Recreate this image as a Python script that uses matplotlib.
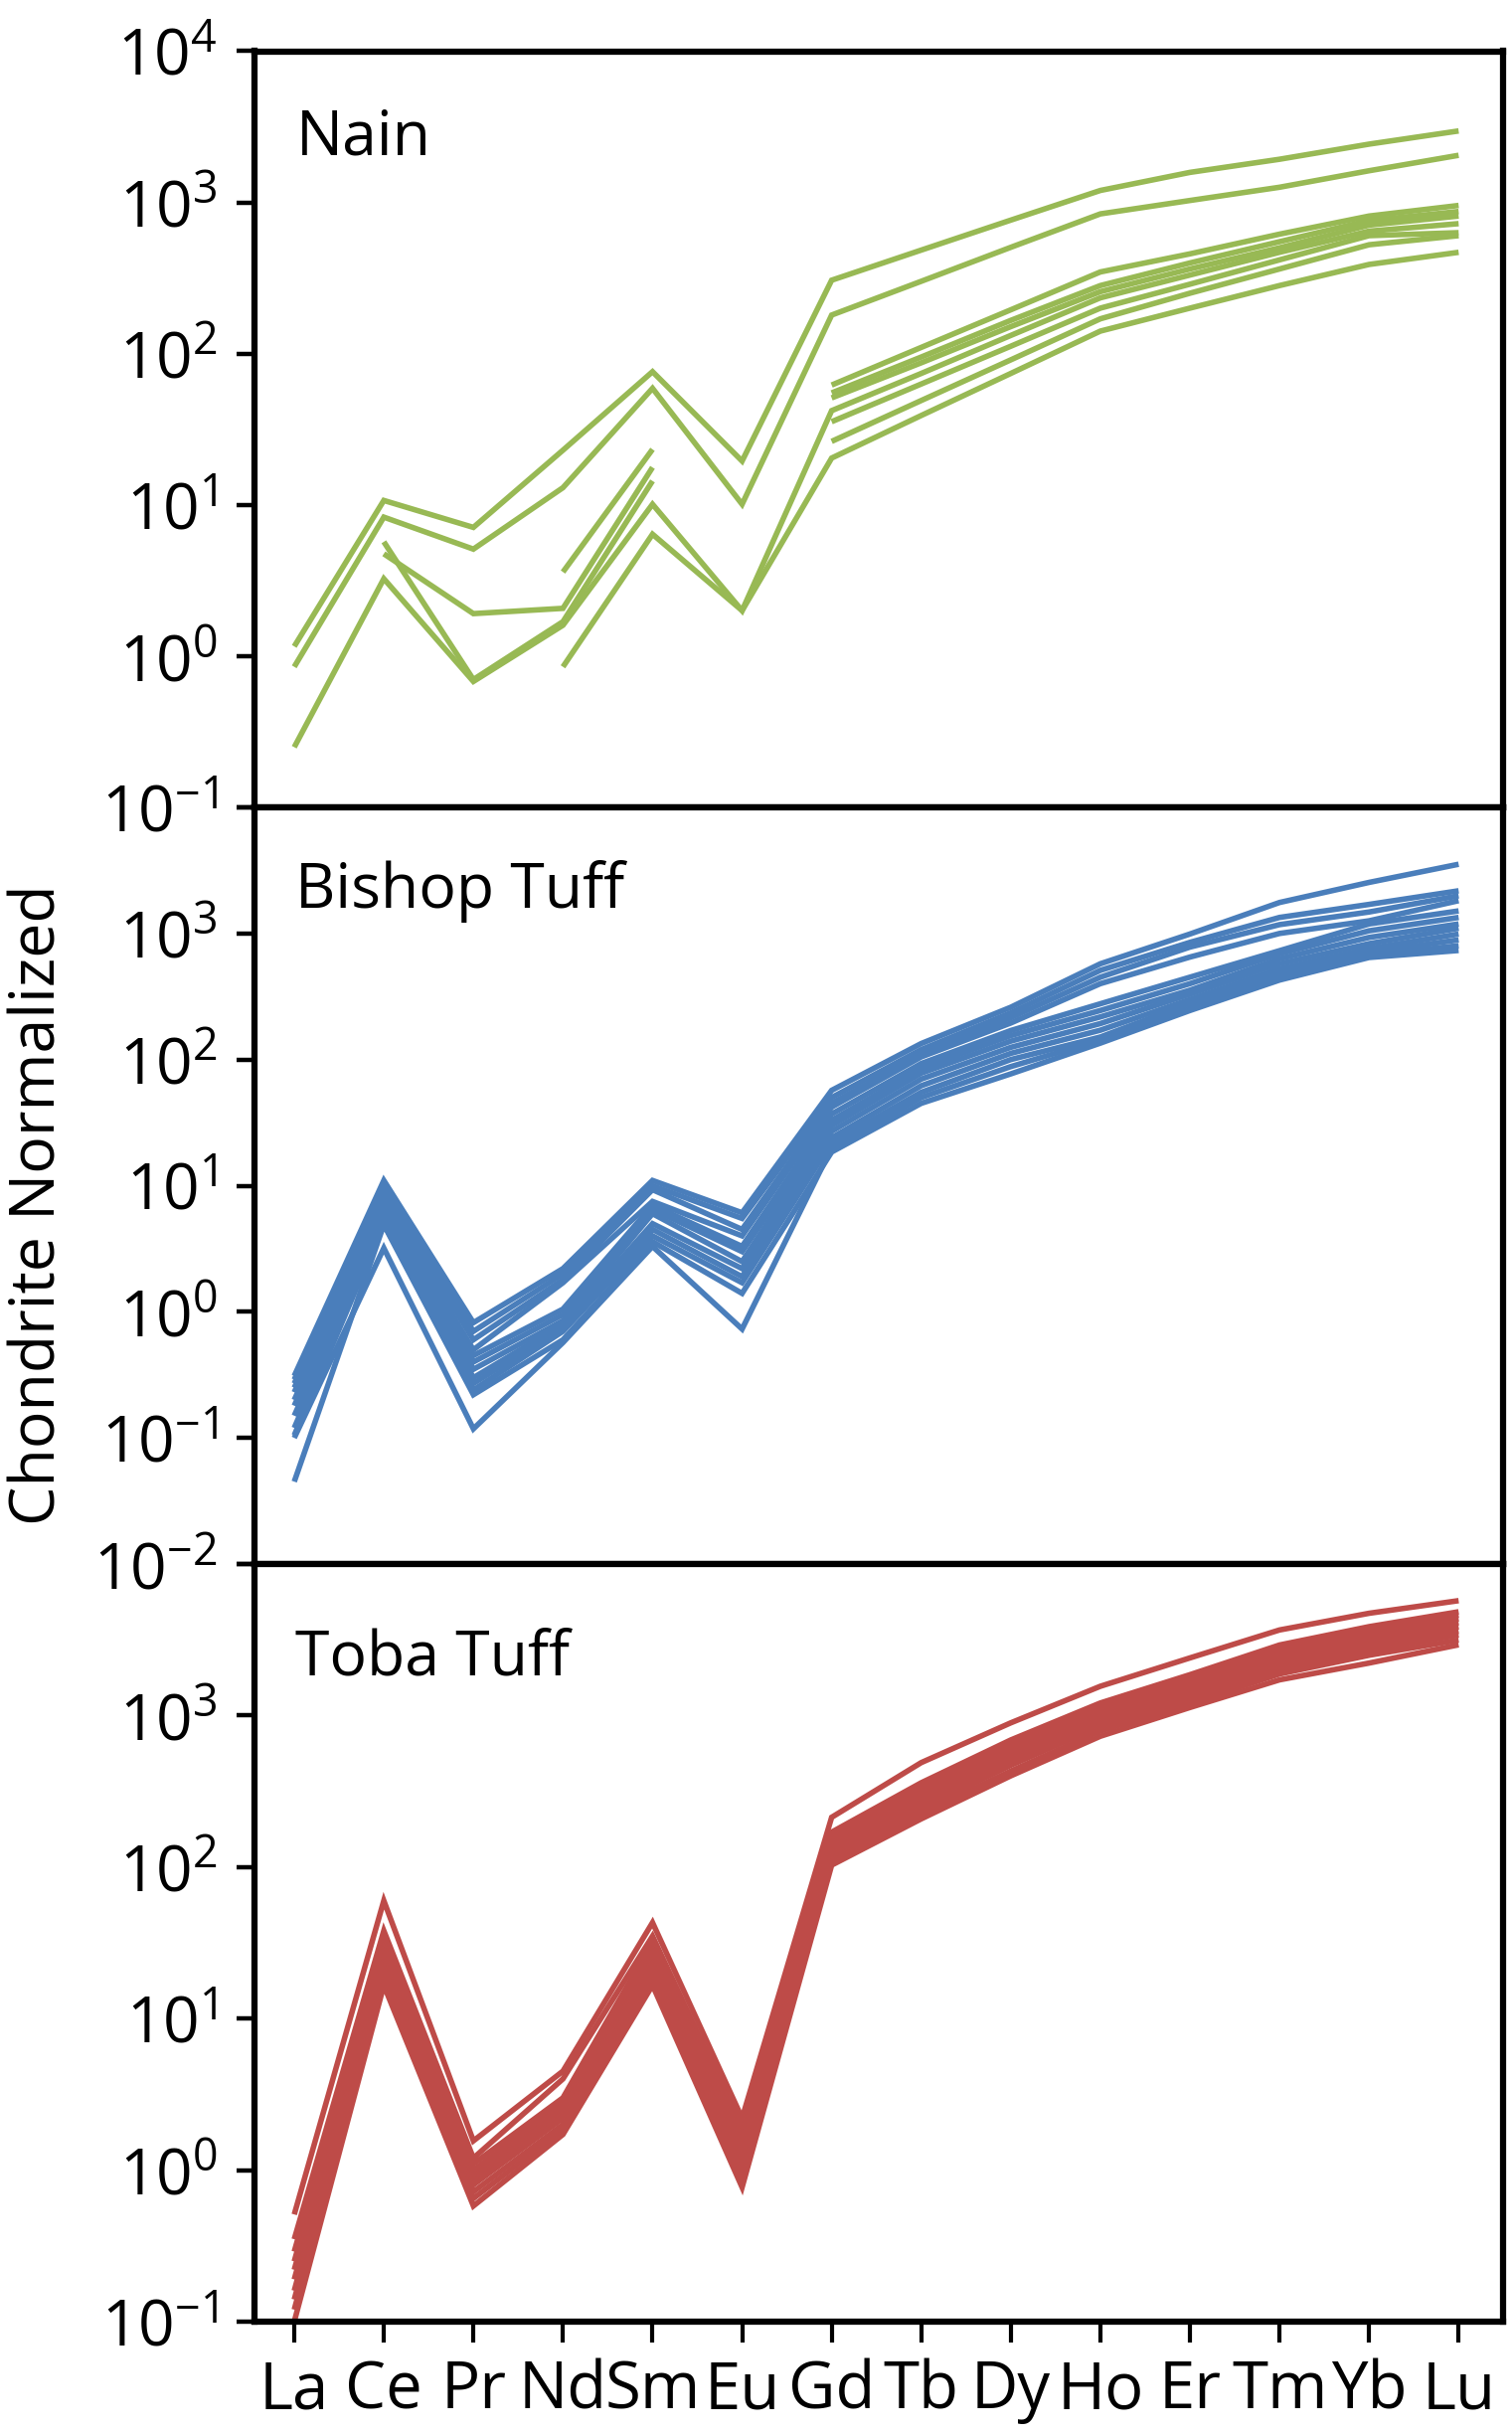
import numpy as np
import matplotlib
matplotlib.use("Agg")
import matplotlib.pyplot as plt
from matplotlib.ticker import FixedLocator, FixedFormatter, NullLocator

plt.rcParams['font.family'] = ['Open Sans', 'DejaVu Sans']
plt.rcParams['mathtext.fontset'] = 'custom'
plt.rcParams['mathtext.rm'] = 'Open Sans'
plt.rcParams['mathtext.it'] = 'Open Sans:italic'
plt.rcParams['mathtext.bf'] = 'Open Sans:bold'

# ---------------- data ----------------
elements = ['La', 'Ce', 'Pr', 'Nd', 'Sm', 'Eu', 'Gd', 'Tb', 'Dy', 'Ho', 'Er', 'Tm', 'Yb', 'Lu']
nan = np.nan

# Nain (chondrite normalized)
nain_1 = [1.16, 10.7, 7.1, 23, 76, 19.5, 306, 484, 764, 1200, 1580, 1930, 2430, 2970]
nain_2 = [0.85, 8.3, 5.1, 13, 59, 10.1, 180, 301, 505, 840, 1030, 1260, 1620, 2050]
nain_3 = [0.25, 3.25, 0.68, 1.6, 10.1, 2.0, 42, 74, 132, 234, 331, 468, 646, 724]
nain_4 = [nan, 5.7, 0.70, 1.69, 14.4, nan, 62, 110, 195, 347, 457, 617, 813, 955]
nain_5 = [nan, 4.75, 1.91, 2.07, 17.7, nan, 55, 95, 166, 282, 398, 550, 759, 871]
nain_6 = [nan, nan, nan, 3.6, 23.3, nan, 51, 87, 151, 257, 363, 501, 708, 813]
nain_7 = [nan, nan, nan, 0.85, 6.4, 2.0, 20.4, 39, 74, 141, 200, 282, 389, 468]
nain_8 = [nan, nan, nan, nan, nan, nan, 35.5, 63, 112, 200, 288, 417, 603, 631]
nain_9 = [nan, nan, nan, nan, nan, nan, 26.3, 49, 91, 170, 251, 363, 525, 603]

# Bishop Tuff
bishop_01 = [0.31, 11, 0.82, 2.2, 11, 6.1, 57, 134, 260, 575, 990, 1760, 2540, 3540]
bishop_02 = [0.27, 9.5, 0.70, 2.0, 10, 5.5, 50, 120, 235, 510, 850, 1340, 1700, 2180]
bishop_03 = [0.23, 8.5, 0.60, 1.8, 9.3, 4.5, 45, 110, 215, 450, 780, 1175, 1480, 1990]
bishop_04 = [0.20, 7.5, 0.50, 1.7, 7.5, 4.0, 42, 105, 195, 400, 650, 1000, 1260, 1820]
bishop_05 = [0.29, 10, 0.45, 1.05, 7.0, 3.3, 37, 93, 170, 277, 450, 730, 1190, 1510]
bishop_06 = [0.25, 8.0, 0.40, 0.95, 6.5, 3.0, 33, 85, 155, 245, 400, 690, 1050, 1340]
bishop_07 = [0.18, 7.0, 0.35, 0.85, 6.0, 2.5, 30, 78, 140, 218, 355, 630, 930, 1190]
bishop_08 = [0.15, 6.0, 0.30, 0.80, 5.0, 2.2, 27, 70, 125, 193, 330, 575, 830, 1100]
bishop_09 = [0.12, 5.5, 0.27, 0.75, 4.5, 1.9, 24, 62, 112, 171, 300, 525, 760, 990]
bishop_10 = [0.105, 5.0, 0.24, 0.70, 4.0, 1.7, 22, 55, 100, 151, 280, 490, 710, 890]
bishop_11 = [0.10, 3.2, 0.118, 0.57, 3.3, 0.73, 20, 50, 88, 143, 263, 457, 675, 800]
bishop_12 = [0.045, 4.9, 0.22, 0.60, 3.6, 1.4, 18.5, 45, 77, 135, 245, 427, 645, 733]

# Toba Tuff
toba_01 = [0.51, 60, 1.56, 4.5, 43, 2.2, 213, 489, 895, 1560, 2400, 3670, 4730, 5730]
toba_02 = [0.35, 38, 1.20, 4.0, 35, 1.9, 170, 360, 690, 1210, 1860, 2920, 3860, 4840]
toba_03 = [0.29, 35, 1.10, 3.0, 32, 1.7, 160, 335, 650, 1150, 1750, 2760, 3650, 4600]
toba_04 = [0.25, 32, 1.00, 2.8, 29, 1.5, 150, 310, 610, 1080, 1640, 2600, 3440, 4350]
toba_05 = [0.22, 29, 0.93, 2.6, 27, 1.4, 140, 290, 570, 1020, 1540, 2440, 3230, 4100]
toba_06 = [0.19, 27, 0.86, 2.4, 25, 1.3, 132, 270, 535, 960, 1450, 2290, 3040, 3850]
toba_07 = [0.16, 25, 0.80, 2.2, 23, 1.15, 125, 255, 500, 900, 1360, 2150, 2860, 3600]
toba_08 = [0.14, 22, 0.72, 2.0, 21, 1.0, 118, 240, 470, 850, 1280, 2020, 2680, 3400]
toba_09 = [0.12, 19, 0.65, 1.85, 19, 0.9, 110, 225, 430, 790, 1200, 1880, 2500, 3150]
toba_10 = [0.10, 16.6, 0.58, 1.72, 16.6, 0.77, 103, 208, 400, 730, 1130, 1720, 2220, 2930]

panel_names = ['Nain', 'Bishop Tuff', 'Toba Tuff']
panel_series = [
    [nain_1, nain_2, nain_3, nain_4, nain_5, nain_6, nain_7, nain_8, nain_9],
    [bishop_01, bishop_02, bishop_03, bishop_04, bishop_05, bishop_06,
     bishop_07, bishop_08, bishop_09, bishop_10, bishop_11, bishop_12],
    [toba_01, toba_02, toba_03, toba_04, toba_05, toba_06, toba_07,
     toba_08, toba_09, toba_10],
]
panel_colors = ['#98B954', '#4A7EBB', '#BE4B48']
panel_exponents = [[-1, 0, 1, 2, 3, 4], [-2, -1, 0, 1, 2, 3, 4], [-1, 0, 1, 2, 3, 4]]
panel_labeled = [[-1, 0, 1, 2, 3, 4], [-2, -1, 0, 1, 2, 3], [-1, 0, 1, 2, 3]]
y_label = 'Chondrite Normalized'

# ---------------- layout ----------------
W, H = 1521, 2449
fig = plt.figure(figsize=(W / 100, H / 100), dpi=100)

left_px, right_px = 256, 1512
panel_px = [(51.5, 812), (812, 1573), (1573, 2335)]
label_y = [0.863, 0.867, 0.854]
FS = 45

x = np.arange(len(elements))
axes = []
for i in range(3):
    top_px, bot_px = panel_px[i]
    rect = [left_px / W, 1 - bot_px / H, (right_px - left_px) / W, (bot_px - top_px) / H]
    ax = fig.add_axes(rect)
    axes.append(ax)
    for s in panel_series[i]:
        ax.plot(x, s, color=panel_colors[i], lw=4.0,
                solid_joinstyle='miter', solid_capstyle='butt')
    ax.set_yscale('log')
    ex = panel_exponents[i]
    ax.set_ylim(10.0 ** ex[0], 10.0 ** ex[-1])
    ax.set_xlim(-0.444, 13.496)
    ax.yaxis.set_major_locator(FixedLocator([10.0 ** e for e in ex]))
    ax.yaxis.set_major_formatter(FixedFormatter(
        [r'$\mathregular{10^{%d}}$' % e if e in panel_labeled[i] else '' for e in ex]))
    ax.yaxis.set_minor_locator(NullLocator())
    ax.xaxis.set_minor_locator(NullLocator())
    ax.set_xticks(x)
    if i == 2:
        ax.set_xticklabels(elements)
        ax.tick_params(axis='x', direction='out', length=15, width=3,
                       pad=12, labelsize=47)
    else:
        ax.set_xticklabels([])
        ax.tick_params(axis='x', bottom=False, labelbottom=False)
    ax.tick_params(axis='y', direction='out', length=13, width=3.2,
                   pad=14, labelsize=46)
    for sp in ax.spines.values():
        sp.set_linewidth(4.5)
        sp.set_color('black')
    ax.text(0.033, label_y[i], panel_names[i], transform=ax.transAxes,
            fontsize=FS, va='baseline', ha='left')

fig.text(39 / W, 1 - 1212 / H, y_label, rotation=90, fontsize=FS,
         ha='center', va='center')

fig.savefig('out.png', dpi=100)
